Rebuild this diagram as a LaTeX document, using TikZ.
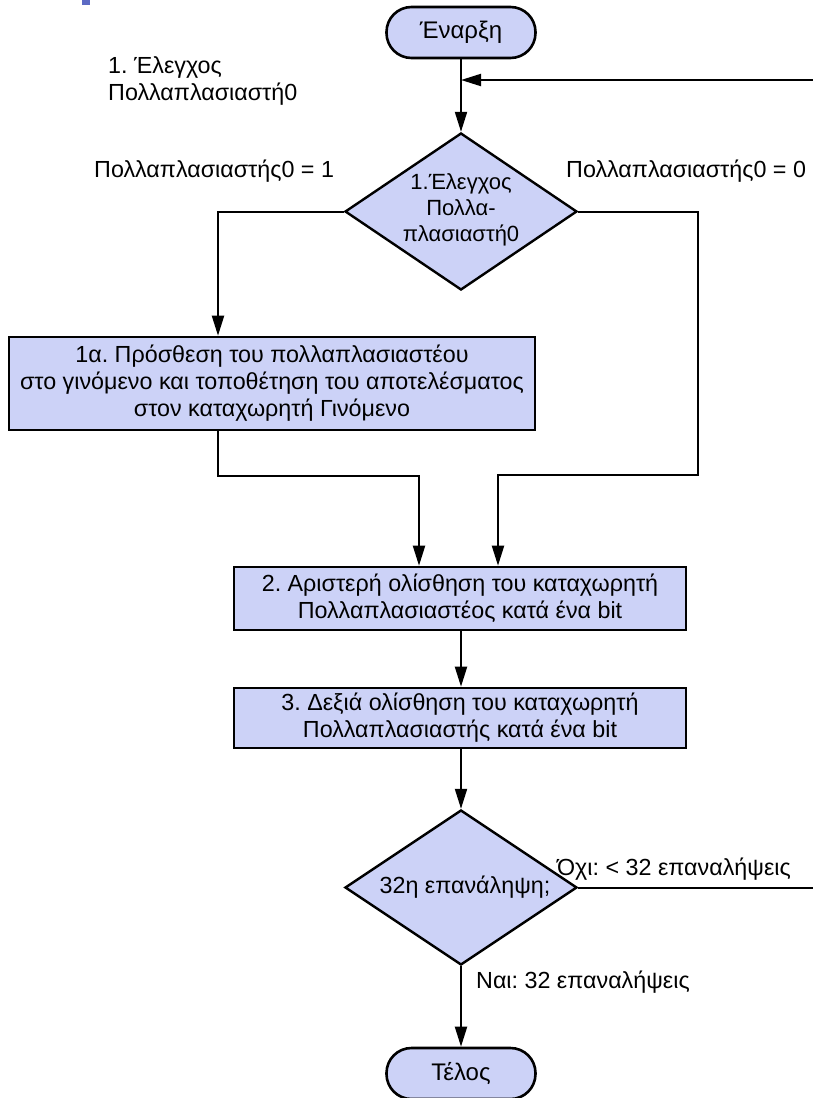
\documentclass[tikz,border=0pt]{standalone}
\usepackage{fontspec}
\setmainfont{Liberation Sans}
\usetikzlibrary{shapes.geometric,arrows.meta}
\definecolor{boxfill}{RGB}{204,210,247}
\definecolor{bullet}{RGB}{92,106,196}
\frenchspacing
\tikzset{
  base/.style={font=\fontsize{23.3}{27}\selectfont},
  term/.style={draw,line width=2.6pt,fill=boxfill,rounded corners=25pt,minimum width=149pt,minimum height=51pt,inner sep=0pt,font=\fontsize{24}{27}\selectfont},
  proc/.style={base,draw,line width=2.6pt,fill=boxfill,align=center,inner sep=0pt},
  dec/.style={draw,line width=2.4pt,fill=boxfill,diamond,inner sep=0pt},
  dtxt/.style={font=\fontsize{22}{26}\selectfont,inner sep=0pt,align=center},
  lbl/.style={base,inner sep=0pt,align=left},
  arr/.style={line width=2pt,-{Triangle[length=20pt,width=12pt]}},
  ln/.style={line width=2pt}
}
\begin{document}
\begin{tikzpicture}[x=1pt,y=-1pt]
\useasboundingbox (0,0) rectangle (813,1098);
\fill[bullet] (82,0) rectangle (90,5);
% nodes
\node[term] (start) at (461,32.5) {Έναρξη};
\node[dec,minimum width=232pt,minimum height=157pt] (d1) at (461,211.5) {};
\node[dtxt] (d1t) at (461,210) {1.Έλεγχος\\Πολλα-\\πλασιαστή0};
\node[proc,minimum width=526pt,minimum height=93pt] (b1) at (272,383.5) {1α. Πρόσθεση του πολλαπλασιαστέου\\στο γινόμενο και τοποθέτηση του αποτελέσματος\\στον καταχωρητή Γινόμενο};
\node[proc,minimum width=452pt,minimum height=63pt] (b2) at (460,598.5) {2. Αριστερή ολίσθηση του καταχωρητή\\Πολλαπλασιαστέος κατά ένα bit};
\node[proc,minimum width=452pt,minimum height=60pt] (b3) at (460,718) {3. Δεξιά ολίσθηση του καταχωρητή\\Πολλαπλασιαστής κατά ένα bit};
\node[dec,minimum width=232pt,minimum height=155pt] (d2) at (461,887.5) {};
\node[base,inner sep=0pt] (d2t) at (465,887) {32η επανάληψη;};
\node[term] (end) at (461,1073.5) {Τέλος};
% labels
\node[lbl,anchor=north west] (l1) at (108,56) {1. Έλεγχος\\Πολλαπλασιαστή0};
\node[lbl,anchor=base west] (l2) at (94,177) {Πολλαπλασιαστής0 = 1};
\node[lbl,anchor=base west] (l3) at (566,177) {Πολλαπλασιαστής0 = 0};
\node[lbl,anchor=base west] (l4) at (557,875) {Όχι: < 32 επαναλήψεις};
\node[lbl,anchor=base west] (l5) at (476,988) {Ναι: 32 επαναλήψεις};
% coordinates
\coordinate (fbin) at (813,80);
\coordinate (r1) at (698,475);
\coordinate (fbout) at (813,887.5);
% connectors
\draw[arr] (start.south) -- (d1.north);
\draw[arr] (fbin) -- (start.south |- fbin);
\draw[arr] (d1.west) -| ([xshift=-54pt]b1.north);
\draw[arr] ([xshift=-54pt]b1.south) -- ++(0,-45pt) -| ([xshift=-41pt]b2.north);
\draw[arr] (d1.east) -| (r1) -| ([xshift=38pt]b2.north);
\draw[arr] (b2.south -| start) -- (b3.north -| start);
\draw[arr] (b3.south -| start) -- (d2.north);
\draw[ln] (d2.east) -- (fbout);
\draw[arr] (d2.south) -- (end.north);
\end{tikzpicture}
\end{document}
